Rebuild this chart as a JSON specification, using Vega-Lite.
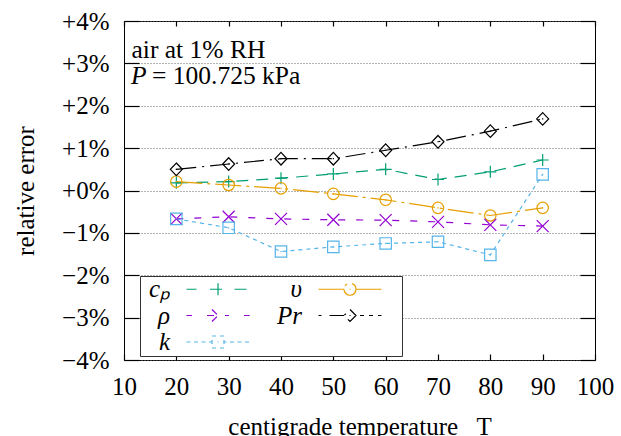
{
  "$schema": "https://vega.github.io/schema/vega-lite/v6.json",
  "width": 471,
  "height": 339,
  "autosize": {"type": "none"},
  "padding": {"left": 124, "top": 21, "right": 26, "bottom": 76},
  "background": "white",
  "config": {
    "font": "Liberation Serif",
    "view": {"stroke": "black", "strokeWidth": 1},
    "axis": {
      "labelFont": "Liberation Serif",
      "titleFont": "Liberation Serif",
      "labelFontSize": 25,
      "titleFontSize": 25,
      "labelColor": "black",
      "titleColor": "black",
      "titleFontWeight": "normal",
      "domainColor": "black",
      "tickColor": "black",
      "tickWidth": 1.2,
      "domainWidth": 1,
      "gridColor": "#666666",
      "gridDash": [1, 2],
      "gridWidth": 1,
      "labelFlush": false,
      "labelOverlap": false
    },
    "legend": {"labelFont": "Liberation Serif"}
  },
  "datasets": {
    "errors": [
      {"T": 20, "series": "cp", "error": 0.18},
      {"T": 30, "series": "cp", "error": 0.21},
      {"T": 40, "series": "cp", "error": 0.29},
      {"T": 50, "series": "cp", "error": 0.39},
      {"T": 60, "series": "cp", "error": 0.50},
      {"T": 70, "series": "cp", "error": 0.26},
      {"T": 80, "series": "cp", "error": 0.44},
      {"T": 90, "series": "cp", "error": 0.72},
      {"T": 20, "series": "υ", "error": 0.21},
      {"T": 30, "series": "υ", "error": 0.13},
      {"T": 40, "series": "υ", "error": 0.05},
      {"T": 50, "series": "υ", "error": -0.08},
      {"T": 60, "series": "υ", "error": -0.22},
      {"T": 70, "series": "υ", "error": -0.41},
      {"T": 80, "series": "υ", "error": -0.59},
      {"T": 90, "series": "υ", "error": -0.41},
      {"T": 20, "series": "ρ", "error": -0.67},
      {"T": 30, "series": "ρ", "error": -0.62},
      {"T": 40, "series": "ρ", "error": -0.67},
      {"T": 50, "series": "ρ", "error": -0.69},
      {"T": 60, "series": "ρ", "error": -0.70},
      {"T": 70, "series": "ρ", "error": -0.74},
      {"T": 80, "series": "ρ", "error": -0.81},
      {"T": 90, "series": "ρ", "error": -0.84},
      {"T": 20, "series": "Pr", "error": 0.50},
      {"T": 30, "series": "Pr", "error": 0.625},
      {"T": 40, "series": "Pr", "error": 0.75},
      {"T": 50, "series": "Pr", "error": 0.75},
      {"T": 60, "series": "Pr", "error": 0.95},
      {"T": 70, "series": "Pr", "error": 1.15},
      {"T": 80, "series": "Pr", "error": 1.40},
      {"T": 90, "series": "Pr", "error": 1.69},
      {"T": 20, "series": "k", "error": -0.67},
      {"T": 30, "series": "k", "error": -0.88},
      {"T": 40, "series": "k", "error": -1.44},
      {"T": 50, "series": "k", "error": -1.33},
      {"T": 60, "series": "k", "error": -1.25},
      {"T": 70, "series": "k", "error": -1.21},
      {"T": 80, "series": "k", "error": -1.52},
      {"T": 90, "series": "k", "error": 0.38}
    ]
  },
  "data": {"name": "errors"},
  "layer": [
    {
      "mark": {"type": "line", "strokeWidth": 1.2},
      "encoding": {
        "x": {
          "field": "T", "type": "quantitative",
          "scale": {"domain": [10, 100], "nice": false, "zero": false},
          "axis": {
            "orient": "top", "offset": -339, "values": [10, 20, 30, 40, 50, 60, 70, 80, 90, 100],
            "ticks": true, "tickSize": 6, "domain": false, "grid": false,
            "labelPadding": -40.3, "labelBaseline": "alphabetic", "labelAlign": "center",
            "labelFont": "Liberation Serif", "labelFontSize": 25,
            "title": "centigrade temperature\u2002 T", "titleY": 74, "titleBaseline": "alphabetic", "titleFont": "Liberation Serif"
          }
        },
        "y": {
          "field": "error", "type": "quantitative",
          "scale": {"domain": [-4, 4], "nice": false, "zero": false},
          "axis": {
            "orient": "right", "offset": -471, "values": [-4, -3, -2, -1, 0, 1, 2, 3, 4],
            "ticks": true, "tickSize": 15, "domain": false, "grid": true,
            "labelPadding": -30, "labelAlign": "right", "labelBaseline": "middle",
            "labelFont": "Liberation Serif", "labelFontSize": 25,
            "labelExpr": "datum.value > 0 ? '+' + datum.value + '%' : (datum.value < 0 ? '\u2212' + (-datum.value) + '%' : '+0%')",
            "title": "relative error", "titleX": -91, "titleY": 169.5, "titleAngle": -90, "titleAlign": "center", "titleBaseline": "alphabetic", "titleFont": "Liberation Serif"
          }
        },
        "color": {
          "field": "series", "type": "nominal",
          "scale": {"domain": ["cp", "ρ", "k", "υ", "Pr"], "range": ["#009E73", "#9400D3", "#56B4E9", "#E69F00", "#000000"]},
          "legend": {
            "title": null, "orient": "none", "legendX": 16, "legendY": 255,
            "columns": 2, "symbolSize": 100, "symbolStrokeWidth": 1.2,
            "labelFont": "Liberation Serif", "labelFontSize": 25, "labelFontStyle": "italic", "labelColor": "black",
            "labelAlign": "right", "labelOffset": 4.5, "columnPadding": 3, "rowPadding": 0.5, "padding": 0.5,
            "strokeColor": "#333333", "fillColor": "white", "cornerRadius": 0,
            "symbolFillColor": "transparent", "symbolOpacity": 1,
            "labelExpr": "datum.label === 'cp' ? 'c\u209a' : datum.label",
            "symbolType": {"expr": "datum.value === 'cp' ? 'M6.7,0H8.7M11.4,0H14.6M16.3,0H19.3M13,-1.2V1.2M22.8,0L22.8,0' : datum.value === 'υ' ? 'M6.7,0H11.8M14.2,0H19.3M11.8,0A1.2,1.2 0 1,0 14.2,0A1.2,1.2 0 1,0 11.8,0ZM12.9,0H13.1M22.8,0L22.8,0' : datum.value === 'ρ' ? 'M6.7,0H7.8M10.8,0H15.2M18.2,0H19.3M11.8,-1.2L14.2,1.2M11.8,1.2L14.2,-1.2M22.8,0L22.8,0' : datum.value === 'Pr' ? 'M6.7,0H7.3M8.9,0H11.8M15,0H15.8M16.8,0H17.6M18.6,0H19.3M13,-1.2L14.2,0L13,1.2L11.8,0ZM12.9,0H13.1M22.8,0L22.8,0' : 'M6.7,0H7.5M8.2,0H9M9.7,0H10.5M11.2,0H11.8M14.2,0H14.7M15.4,0H16.2M16.9,0H17.7M18.4,0H19.3M11.8,-1.2H14.2V1.2H11.8ZM12.9,0H13.1M22.8,0L22.8,0'"}
          }
        },
        "strokeDash": {
          "field": "series", "type": "nominal",
          "scale": {"domain": ["cp", "ρ", "k", "υ", "Pr"], "range": [[12, 8], [7, 11], [4, 4], [26, 5, 3, 5], [20, 6, 2, 6]]},
          "legend": null
        }
      }
    },
    {
      "transform": [{"filter": "datum.series === 'cp'"}],
      "mark": {"type": "point", "shape": "M-1,0H1M0,-1V1", "filled": false, "strokeWidth": 1.2, "size": 144, "opacity": 1},
      "encoding": {
        "x": {"field": "T", "type": "quantitative",
          "axis": {"orient": "bottom", "offset": -339, "values": [10, 20, 30, 40, 50, 60, 70, 80, 90, 100], "ticks": true, "tickSize": 5, "labels": false, "domain": false, "title": null, "grid": false}},
        "y": {"field": "error", "type": "quantitative",
          "axis": {"orient": "left", "offset": -471, "values": [-4, -3, -2, -1, 0, 1, 2, 3, 4], "ticks": true, "tickSize": 15, "labels": false, "domain": false, "title": null, "grid": false}},
        "color": {"field": "series", "type": "nominal"}
      }
    },
    {
      "transform": [{"filter": "datum.series === 'υ'"}],
      "mark": {"type": "point", "shape": "M-0.95,0A0.95,0.95 0 1,0 0.95,0A0.95,0.95 0 1,0 -0.95,0ZM-0.1,0H0.1", "filled": false, "strokeWidth": 1.2, "size": 144, "opacity": 1},
      "encoding": {
        "x": {"field": "T", "type": "quantitative", "axis": null},
        "y": {"field": "error", "type": "quantitative", "axis": null},
        "color": {"field": "series", "type": "nominal"}
      }
    },
    {
      "transform": [{"filter": "datum.series === 'ρ'"}],
      "mark": {"type": "point", "shape": "M-1,-1L1,1M-1,1L1,-1", "filled": false, "strokeWidth": 1.2, "size": 144, "opacity": 1},
      "encoding": {
        "x": {"field": "T", "type": "quantitative", "axis": null},
        "y": {"field": "error", "type": "quantitative", "axis": null},
        "color": {"field": "series", "type": "nominal"}
      }
    },
    {
      "transform": [{"filter": "datum.series === 'Pr'"}],
      "mark": {"type": "point", "shape": "M0,-1.05L1,0L0,1.05L-1,0ZM-0.1,0H0.1", "filled": false, "strokeWidth": 1.2, "size": 144, "opacity": 1},
      "encoding": {
        "x": {"field": "T", "type": "quantitative", "axis": null},
        "y": {"field": "error", "type": "quantitative", "axis": null},
        "color": {"field": "series", "type": "nominal"}
      }
    },
    {
      "transform": [{"filter": "datum.series === 'k'"}],
      "mark": {"type": "point", "shape": "M-0.95,-0.95H0.95V0.95H-0.95ZM-0.1,0H0.1", "filled": false, "strokeWidth": 1.2, "size": 144, "opacity": 1},
      "encoding": {
        "x": {"field": "T", "type": "quantitative", "axis": null},
        "y": {"field": "error", "type": "quantitative", "axis": null},
        "color": {"field": "series", "type": "nominal"}
      }
    },
    {
      "data": {"values": [{"note": "air at 1% RH"}]},
      "mark": {"type": "text", "align": "left", "baseline": "alphabetic", "fontSize": 25.5, "font": "Liberation Serif", "dx": 7.5, "color": "black"},
      "encoding": {
        "x": {"datum": 10, "type": "quantitative", "axis": null},
        "y": {"datum": 3.134, "type": "quantitative", "axis": null},
        "text": {"field": "note"}
      }
    },
    {
      "data": {"values": [{"note": "P"}]},
      "mark": {"type": "text", "align": "left", "baseline": "alphabetic", "fontSize": 25.5, "font": "Liberation Serif", "fontStyle": "italic", "dx": 7, "color": "black"},
      "encoding": {
        "x": {"datum": 10, "type": "quantitative", "axis": null},
        "y": {"datum": 2.513, "type": "quantitative", "axis": null},
        "text": {"field": "note"}
      }
    },
    {
      "data": {"values": [{"note": "= 100.725 kPa"}]},
      "mark": {"type": "text", "align": "left", "baseline": "alphabetic", "fontSize": 25.5, "font": "Liberation Serif", "dx": 28, "color": "black"},
      "encoding": {
        "x": {"datum": 10, "type": "quantitative", "axis": null},
        "y": {"datum": 2.513, "type": "quantitative", "axis": null},
        "text": {"field": "note"}
      }
    }
  ],
  "resolve": {"axis": {"x": "independent", "y": "independent"}}
}
